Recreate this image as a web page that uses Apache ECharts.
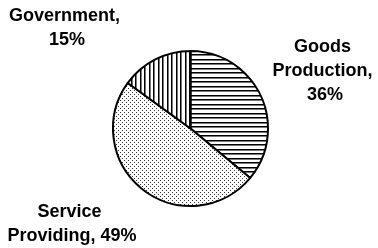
<!DOCTYPE html>
<html>
<head>
<meta charset="utf-8">
<script src="https://cdn.jsdelivr.net/npm/echarts@6/dist/echarts.min.js"></script>
<style>
  html, body { margin: 0; padding: 0; background: #fff; }
  #chart { width: 378px; height: 248px; }
</style>
</head>
<body>
<div id="chart"></div>
<script>
// 数据
const categories = ['Goods Production', 'Service Providing', 'Government']
const shares = [36, 49, 15]

// 填充图案
function makePattern(w, h, draw) {
  const c = document.createElement('canvas')
  c.width = w
  c.height = h
  const ctx = c.getContext('2d')
  ctx.fillStyle = '#fff'
  ctx.fillRect(0, 0, w, h)
  draw(ctx)
  return { image: c, repeat: 'repeat' }
}
const hLines = makePattern(10, 9, (ctx) => {
  ;[0, 5].forEach((y) => {
    ctx.fillStyle = '#000'
    ctx.fillRect(0, y, 10, 1)
    ctx.fillStyle = '#777'
    ctx.fillRect(0, y + 1, 10, 1)
  })
})
const vLines = makePattern(9, 10, (ctx) => {
  ;[0, 5].forEach((x) => {
    ctx.fillStyle = '#000'
    ctx.fillRect(x, 0, 1, 10)
    ctx.fillStyle = '#777'
    ctx.fillRect(x + 1, 0, 1, 10)
  })
})
const dots = makePattern(4, 4, (ctx) => {
  ctx.fillStyle = '#333'
  ctx.fillRect(0, 0, 1, 1)
  ctx.fillRect(2, 2, 1, 1)
})
const fills = [hLines, dots, vLines]

// 标签位置
const labelPos = [
  [325, 71],
  [72, 224],
  [67, 28],
]

const chart = echarts.init(document.getElementById('chart'))
chart.setOption({
  animation: false,
  series: [
    {
      type: 'pie',
      center: [190.5, 128.5],
      radius: 77.5,
      startAngle: 90,
      clockwise: true,
      silent: true,
      data: categories.map((name, i) => ({
        name,
        value: shares[i],
        itemStyle: { color: fills[i] },
      })),
      itemStyle: { borderColor: '#000', borderWidth: 2 },
      label: {
        show: true,
        position: 'outside',
        formatter: '{b}, {d}%',
        fontFamily: 'Liberation Sans, Arial, sans-serif',
        fontWeight: 'bold',
        fontSize: 18,
        lineHeight: 24,
        color: '#000',
        width: 140,
        overflow: 'break',
        align: 'center',
      },
      labelLine: { show: false },
      labelLayout: (p) => ({
        x: labelPos[p.dataIndex][0],
        y: labelPos[p.dataIndex][1],
        align: 'center',
        verticalAlign: 'middle',
      }),
    },
  ],
})
</script>
</body>
</html>
